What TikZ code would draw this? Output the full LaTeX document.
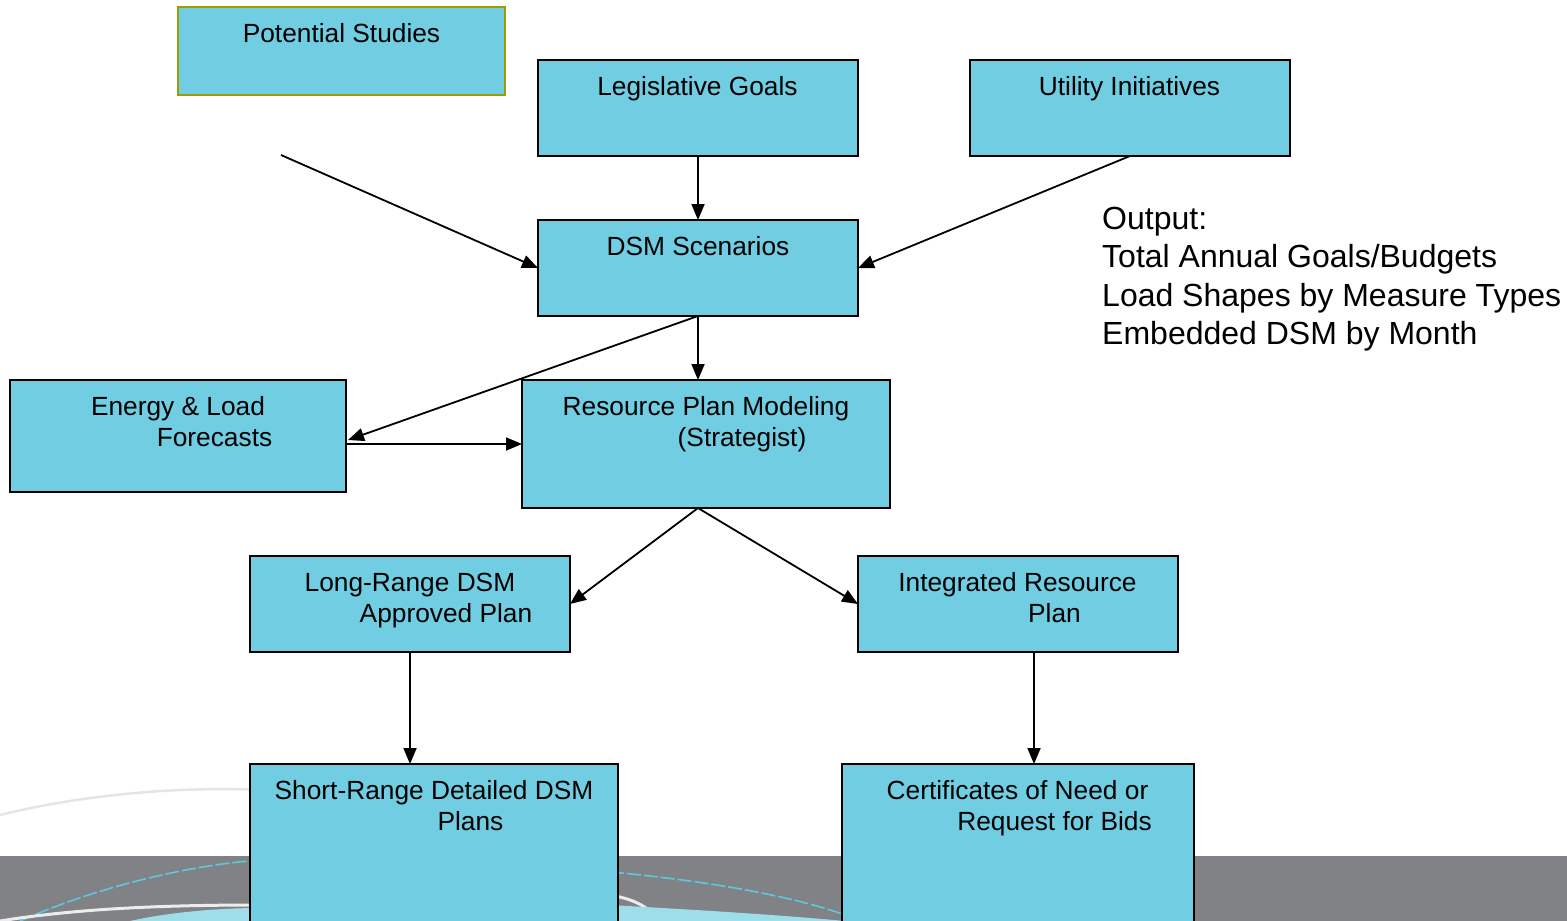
\documentclass[tikz,border=0pt]{standalone}
\usepackage{fontspec}
\setmainfont{Liberation Sans}
\usetikzlibrary{arrows.meta,calc}
\definecolor{boxfill}{HTML}{71CDE1}
\definecolor{olive}{HTML}{9A9E00}
\definecolor{band}{HTML}{808285}
\definecolor{swoosh}{HTML}{5EC8DC}
\tikzset{
  box/.style={draw=black, line width=1.8pt, fill=boxfill, anchor=north west, outer sep=0pt, inner sep=0pt},
  lbl/.style={anchor=base, inner sep=0pt, font=\fontsize{26.3}{31}\selectfont},
  outlbl/.style={anchor=base west, inner sep=0pt, font=\fontsize{32}{38}\selectfont},
  conn/.style={line width=1.8pt, -{Triangle[length=16pt,width=13pt]}}
}
\begin{document}
\begin{tikzpicture}[x=1pt,y=-1pt]
\useasboundingbox (0,0) rectangle (1567,921);
\clip (0,0) rectangle (1567,921);
% background band and swooshes
\fill[band] (0,856) rectangle (1567,921);
\draw[white!80!gray, line width=2.5pt] (0,815) .. controls (80,795) and (180,786) .. (260,790);
\draw[swoosh, line width=1.6pt, dash pattern=on 14pt off 3pt] (20,921) .. controls (90,890) and (180,866) .. (260,860);
\draw[swoosh, line width=1.6pt, dash pattern=on 14pt off 3pt] (610,872) .. controls (700,880) and (790,895) .. (845,915);
\draw[white!85!gray, line width=3pt] (0,921) .. controls (80,908) and (170,905) .. (260,905);
\fill[swoosh!60!white] (130,921) .. controls (170,912) and (220,908) .. (260,908) -- (260,921) -- cycle;
\draw[white!85!gray, line width=3pt] (610,895) .. controls (640,900) and (650,910) .. (660,921);
\fill[swoosh!60!white] (610,905) .. controls (700,910) and (780,915) .. (845,921) -- (610,921) -- cycle;

% boxes
\node[box, draw=olive, minimum width=327, minimum height=88] (pot) at (178,7) {};
\node[box, minimum width=320, minimum height=96] (leg) at (538,60) {};
\node[box, minimum width=320, minimum height=96] (util) at (970,60) {};
\node[box, minimum width=320, minimum height=96] (dsm) at (538,220) {};
\node[box, minimum width=336, minimum height=112] (ener) at (10,380) {};
\node[box, minimum width=368, minimum height=128] (res) at (522,380) {};
\node[box, minimum width=320, minimum height=96] (lr) at (250,556) {};
\node[box, minimum width=320, minimum height=96] (irp) at (858,556) {};
\node[box, minimum width=368, minimum height=180] (sr) at (250,764) {};
\node[box, minimum width=352, minimum height=180] (cert) at (842,764) {};

% texts
\node[lbl] (tpot) at (341.5,42) {Potential Studies};
\node[lbl] (tleg) at (697.5,95) {Legislative Goals};
\node[lbl] (tutil) at (1129.5,95) {Utility Initiatives};
\node[lbl] (tdsm) at (698,255) {DSM Scenarios};
\node[lbl] (tener1) at (178,415) {Energy \& Load};
\node[lbl] (tener2) at (214.5,446) {Forecasts};
\node[lbl] (tres1) at (706,415) {Resource Plan Modeling};
\node[lbl] (tres2) at (742,446) {(Strategist)};
\node[lbl] (tlr1) at (410,591) {Long-Range DSM};
\node[lbl] (tlr2) at (446,622) {Approved Plan};
\node[lbl] (tirp1) at (1017.5,591) {Integrated Resource};
\node[lbl] (tirp2) at (1054.5,622) {Plan};
\node[lbl] (tsr1) at (434,799) {Short-Range Detailed DSM};
\node[lbl] (tsr2) at (470.5,830) {Plans};
\node[lbl] (tcert1) at (1017.5,799) {Certificates of Need or};
\node[lbl] (tcert2) at (1054.5,830) {Request for Bids};
\node[outlbl] (out1) at (1102,229) {Output:};
\node[outlbl] (out2) at (1102,267) {Total Annual Goals/Budgets};
\node[outlbl] (out3) at (1102,306) {Load Shapes by Measure Types};
\node[outlbl] (out4) at (1102,344) {Embedded DSM by Month};

% connectors
\coordinate (free) at (281,155);
\coordinate (resS) at (dsm.south |- res.south);
\draw[conn] (free) -- (dsm.west);
\draw[conn] (leg.south) -- (dsm.north);
\draw[conn] (util.south) -- (dsm.east);
\draw[conn] (dsm.south) -- (dsm.south |- res.north);
\draw[conn] (dsm.south) -- ($(ener.east)+(2,4)$);
\draw[conn] (ener.east |- res.west) -- (res.west);
\draw[conn] (resS) -- (lr.east);
\draw[conn] (resS) -- (irp.west);
\draw[conn] (lr.south) -- (lr.south |- sr.north);
\draw[conn] (irp.south -| 1034,0) -- (1034,764);
\end{tikzpicture}
\end{document}
